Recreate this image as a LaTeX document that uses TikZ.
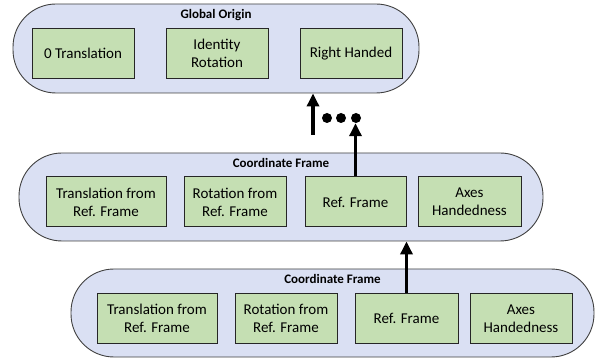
\documentclass[tikz,border=0pt]{standalone}
\usepackage{fontspec}
\setmainfont{Carlito}
\usetikzlibrary{arrows.meta,positioning}
\definecolor{framefill}{HTML}{DAE0F3}
\definecolor{fieldfill}{HTML}{C5DFB3}
\begin{document}
\begin{tikzpicture}[x=1pt, y=-1pt,
  frame node/.style={draw=black!75, fill=framefill, rounded corners=43pt, inner sep=0pt, line width=0.9pt},
  field node/.style={draw=black!85, fill=fieldfill, line width=1pt, minimum height=50pt, align=center, inner sep=0pt, font=\fontsize{15}{18}\selectfont},
  title node/.style={font=\fontsize{13}{15}\selectfont\bfseries},
  link/.style={line width=3.2pt, -{Triangle[width=12pt,length=13pt]}},
  dot node/.style={circle, fill=black, inner sep=0pt, minimum size=10pt}]
\useasboundingbox (0,0) rectangle (600,358);
% frames
\node[frame node, minimum width=406pt, minimum height=89pt] (origin) at (216,48.5) {};
\node[frame node, minimum width=524pt, minimum height=88pt] (frameA) at (281,197) {};
\node[frame node, minimum width=523pt, minimum height=88pt] (frameB) at (332.5,313) {};
\node[title node] (originT) at ([yshift=-11pt]origin.north) {Global Origin};
\node[title node] (frameAT) at ([yshift=-10pt]frameA.north) {Coordinate Frame};
\node[title node] (frameBT) at ([yshift=-10pt]frameB.north) {Coordinate Frame};
% global origin fields
\node[field node, minimum width=102pt] (o1) at (83,53.5) {0 Translation};
\node[field node, minimum width=102pt, right=31pt of o1] (o2) {Identity\\Rotation};
\node[field node, minimum width=102pt, right=31pt of o2] (o3) {Right Handed};
% first frame fields
\node[field node, minimum width=120pt] (a1) at (106,202) {Translation from\\Ref. Frame};
\node[field node, minimum width=102pt, right=17pt of a1] (a2) {Rotation from\\Ref. Frame};
\node[field node, minimum width=101pt, right=18pt of a2] (a3) {Ref. Frame};
\node[field node, minimum width=103pt, right=11pt of a3] (a4) {Axes\\Handedness};
% second frame fields
\node[field node, minimum width=120pt] (b1) at (157,318.5) {Translation from\\Ref. Frame};
\node[field node, minimum width=102pt, right=17pt of b1] (b2) {Rotation from\\Ref. Frame};
\node[field node, minimum width=103pt, right=17pt of b2] (b3) {Ref. Frame};
\node[field node, minimum width=102pt, right=11pt of b3] (b4) {Axes\\Handedness};
% dots
\node[dot node] (dot1) at (327,118) {};
\node[dot node] (dot2) at (341,118) {};
\node[dot node] (dot3) at (356,118) {};
\coordinate (tail) at (313,135);
\draw[link] (tail) -- (tail |- origin.south);
\draw[link] (a3.north) -- (a3.north |- dot3.south);
\draw[link] (b3.north) -- (b3.north |- frameA.south);
\end{tikzpicture}
\end{document}
